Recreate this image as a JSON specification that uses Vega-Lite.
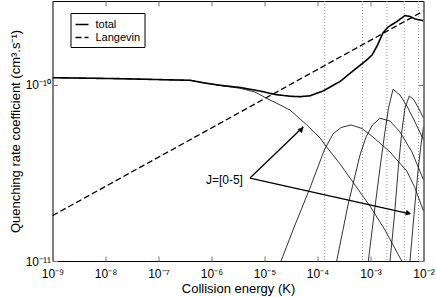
{
  "$schema": "https://vega.github.io/schema/vega-lite/v6.json",
  "width": 371,
  "height": 260,
  "autosize": {"type": "none"},
  "padding": {"left": 52.5, "top": 1, "right": 12.5, "bottom": 36},
  "background": "white",
  "config": {
    "font": "Liberation Sans",
    "view": {"stroke": "black", "strokeWidth": 1},
    "axis": {"grid": false, "domain": false, "tickColor": "#777", "tickSize": -5, "labelFont": "Liberation Sans", "titleFont": "Liberation Sans", "labelColor": "black", "titleColor": "black", "titleFontWeight": "normal", "labelOverlap": false, "labelBound": false, "labelFlush": false}
  },
  "datasets": {
    "main": [
      {"series": "total", "e": 1e-9, "k": 1.100e-10},
      {"series": "total", "e": 1.88e-8, "k": 1.086e-10},
      {"series": "total", "e": 3.93e-7, "k": 1.063e-10},
      {"series": "total", "e": 7.53e-7, "k": 1.026e-10},
      {"series": "total", "e": 1.445e-6, "k": 9.96e-11},
      {"series": "total", "e": 3.45e-6, "k": 9.68e-11},
      {"series": "total", "e": 8.22e-6, "k": 9.24e-11},
      {"series": "total", "e": 1.58e-5, "k": 8.83e-11},
      {"series": "total", "e": 3.03e-5, "k": 8.63e-11},
      {"series": "total", "e": 4.68e-5, "k": 8.58e-11},
      {"series": "total", "e": 7.21e-5, "k": 8.68e-11},
      {"series": "total", "e": 1.27e-4, "k": 9.24e-11},
      {"series": "total", "e": 2.66e-4, "k": 1.047e-10},
      {"series": "total", "e": 4.68e-4, "k": 1.201e-10},
      {"series": "total", "e": 8.47e-4, "k": 1.387e-10},
      {"series": "total", "e": 1.07e-3, "k": 1.481e-10},
      {"series": "total", "e": 1.33e-3, "k": 1.666e-10},
      {"series": "total", "e": 1.72e-3, "k": 1.975e-10},
      {"series": "total", "e": 2.14e-3, "k": 2.135e-10},
      {"series": "total", "e": 3.12e-3, "k": 2.289e-10},
      {"series": "total", "e": 4.48e-3, "k": 2.482e-10},
      {"series": "total", "e": 5.56e-3, "k": 2.450e-10},
      {"series": "total", "e": 6.92e-3, "k": 2.371e-10},
      {"series": "total", "e": 1e-2, "k": 2.319e-10},
      {"series": "Langevin", "e": 1e-9, "k": 1.81e-11},
      {"series": "Langevin", "e": 1e-2, "k": 2.63e-10}
    ],
    "jcurves": [
      {"J": "0", "e": 1e-9, "k": 1.100e-10},
      {"J": "0", "e": 1.88e-8, "k": 1.086e-10},
      {"J": "0", "e": 3.93e-7, "k": 1.063e-10},
      {"J": "0", "e": 7.53e-7, "k": 1.026e-10},
      {"J": "0", "e": 1.445e-6, "k": 9.94e-11},
      {"J": "0", "e": 3.45e-6, "k": 9.58e-11},
      {"J": "0", "e": 6.62e-6, "k": 9.12e-11},
      {"J": "0", "e": 1.10e-5, "k": 8.40e-11},
      {"J": "0", "e": 3.03e-5, "k": 7.21e-11},
      {"J": "0", "e": 6.26e-5, "k": 5.93e-11},
      {"J": "0", "e": 1.114e-4, "k": 5.00e-11},
      {"J": "0", "e": 1.492e-4, "k": 4.44e-11},
      {"J": "0", "e": 2.66e-4, "k": 3.56e-11},
      {"J": "0", "e": 5.10e-4, "k": 2.70e-11},
      {"J": "0", "e": 9.79e-4, "k": 2.05e-11},
      {"J": "0", "e": 1.877e-3, "k": 1.50e-11},
      {"J": "0", "e": 3.88e-3, "k": 1.0e-11},
      {"J": "1", "e": 2.048e-5, "k": 1.0e-11},
      {"J": "1", "e": 3.763e-5, "k": 1.602e-11},
      {"J": "1", "e": 7.219e-5, "k": 2.60e-11},
      {"J": "1", "e": 1.344e-4, "k": 4.27e-11},
      {"J": "1", "e": 1.961e-4, "k": 5.27e-11},
      {"J": "1", "e": 2.776e-4, "k": 5.73e-11},
      {"J": "1", "e": 4.287e-4, "k": 5.93e-11},
      {"J": "1", "e": 6.913e-4, "k": 5.66e-11},
      {"J": "1", "e": 1.115e-3, "k": 5.06e-11},
      {"J": "1", "e": 2.333e-3, "k": 4.16e-11},
      {"J": "1", "e": 4.819e-3, "k": 3.25e-11},
      {"J": "1", "e": 6.913e-3, "k": 2.60e-11},
      {"J": "1", "e": 1e-2, "k": 1.92e-11},
      {"J": "2", "e": 2.303e-4, "k": 1.0e-11},
      {"J": "2", "e": 3.763e-4, "k": 2.08e-11},
      {"J": "2", "e": 6.339e-4, "k": 4.00e-11},
      {"J": "2", "e": 8.226e-4, "k": 5.06e-11},
      {"J": "2", "e": 1.091e-3, "k": 5.93e-11},
      {"J": "2", "e": 1.511e-3, "k": 6.47e-11},
      {"J": "2", "e": 2.333e-3, "k": 6.24e-11},
      {"J": "2", "e": 3.603e-3, "k": 5.41e-11},
      {"J": "2", "e": 6.067e-3, "k": 4.16e-11},
      {"J": "2", "e": 1e-2, "k": 2.89e-11},
      {"J": "3", "e": 9.09e-4, "k": 1.0e-11},
      {"J": "3", "e": 1.164e-3, "k": 1.83e-11},
      {"J": "3", "e": 1.511e-3, "k": 3.38e-11},
      {"J": "3", "e": 1.837e-3, "k": 5.20e-11},
      {"J": "3", "e": 2.186e-3, "k": 7.40e-11},
      {"J": "3", "e": 2.658e-3, "k": 9.45e-11},
      {"J": "3", "e": 3.603e-3, "k": 8.77e-11},
      {"J": "3", "e": 5.10e-3, "k": 7.40e-11},
      {"J": "3", "e": 7.219e-3, "k": 6.00e-11},
      {"J": "3", "e": 1e-2, "k": 4.87e-11},
      {"J": "4", "e": 2.333e-3, "k": 1.0e-11},
      {"J": "4", "e": 2.837e-3, "k": 1.83e-11},
      {"J": "4", "e": 3.346e-3, "k": 3.38e-11},
      {"J": "4", "e": 3.929e-3, "k": 5.55e-11},
      {"J": "4", "e": 4.477e-3, "k": 7.40e-11},
      {"J": "4", "e": 5.397e-3, "k": 8.66e-11},
      {"J": "4", "e": 6.618e-3, "k": 8.22e-11},
      {"J": "4", "e": 8.226e-3, "k": 7.30e-11},
      {"J": "4", "e": 1e-2, "k": 6.49e-11},
      {"J": "5", "e": 5.564e-3, "k": 1.0e-11},
      {"J": "5", "e": 6.618e-3, "k": 1.83e-11},
      {"J": "5", "e": 7.979e-3, "k": 3.38e-11},
      {"J": "5", "e": 8.971e-3, "k": 4.56e-11},
      {"J": "5", "e": 1e-2, "k": 5.77e-11}
    ],
    "thresholds": [
      {"e": 1.367e-4}, {"e": 7.06e-4}, {"e": 2.04e-3}, {"e": 4.34e-3}, {"e": 8.08e-3}
    ],
    "arrows": [
      {"e": 5.32e-6, "k": 2.96e-11, "e2": 5.40e-5, "k2": 5.79e-11},
      {"e": 5.32e-6, "k": 2.96e-11, "e2": 5.56e-3, "k2": 1.85e-11}
    ],
    "head1": [{"e": 5.0e-5, "k": 5.6e-11}],
    "head2": [{"e": 5.2e-3, "k": 1.87e-11}],
    "label": [{"e": 4.28e-6, "k": 2.88e-11, "text": "J=[0-5]"}]
  },
  "layer": [
    {
      "data": {"name": "thresholds"},
      "mark": {"type": "rule", "color": "#999", "strokeDash": [1, 2], "strokeWidth": 1},
      "encoding": {
        "x": {"field": "e", "type": "quantitative", "scale": {"type": "log", "domain": [1e-9, 1e-2]}, "axis": null}
      }
    },
    {
      "data": {"name": "jcurves"},
      "mark": {"type": "line", "color": "black", "strokeWidth": 0.8, "clip": true},
      "encoding": {
        "x": {"field": "e", "type": "quantitative", "scale": {"type": "log", "domain": [1e-9, 1e-2]},
          "axis": {"orient": "top", "values": [1e-9, 1e-8, 1e-7, 1e-6, 1e-5, 1e-4, 1e-3, 1e-2], "labels": false, "title": null}},
        "y": {"field": "k", "type": "quantitative", "scale": {"type": "log", "domain": [1e-11, 3.0e-10]},
          "axis": {"orient": "right", "values": [1e-11, 1e-10], "labels": false, "title": null}},
        "detail": {"field": "J", "type": "nominal"}
      }
    },
    {
      "data": {"name": "main"},
      "mark": {"type": "line", "color": "black", "clip": true},
      "encoding": {
        "x": {"field": "e", "type": "quantitative", "scale": {"type": "log", "domain": [1e-9, 1e-2]},
          "axis": {"orient": "bottom", "values": [1e-9, 1e-8, 1e-7, 1e-6, 1e-5, 1e-4, 1e-3, 1e-2], "title": "Collision energy (K)", "titleFontSize": 13, "labelFontSize": 12, "labelPadding": 12, "titlePadding": 3,
            "labelExpr": "'10' + ['⁻¹¹','⁻¹⁰','⁻⁹','⁻⁸','⁻⁷','⁻⁶','⁻⁵','⁻⁴','⁻³','⁻²'][round(log(datum.value)/LN10)+11]"}},
        "y": {"field": "k", "type": "quantitative", "scale": {"type": "log", "domain": [1e-11, 3.0e-10]},
          "axis": {"orient": "left", "values": [1e-11, 1e-10], "title": "Quenching rate coefficient (cm³.s⁻¹)", "titleFontSize": 13, "labelFontSize": 12, "labelPadding": 7, "titlePadding": 3,
            "labelExpr": "'10' + ['⁻¹¹','⁻¹⁰','⁻⁹','⁻⁸','⁻⁷','⁻⁶','⁻⁵','⁻⁴','⁻³','⁻²'][round(log(datum.value)/LN10)+11]"}},
        "strokeDash": {"field": "series", "type": "nominal", "scale": {"domain": ["total", "Langevin"], "range": [[1, 0], [6, 3]]},
          "legend": {"orient": "none", "legendX": 18, "legendY": 12, "title": null, "strokeColor": "black", "padding": 4, "symbolType": "stroke", "symbolSize": 169, "symbolStrokeColor": "black", "labelFontSize": 11, "labelOffset": 6, "rowPadding": 0, "labelColor": "black"}},
        "strokeWidth": {"field": "series", "type": "nominal", "scale": {"domain": ["total", "Langevin"], "range": [1.6, 1.3]}, "legend": null}
      }
    },
    {
      "data": {"name": "arrows"},
      "mark": {"type": "rule", "color": "black", "strokeWidth": 1.3},
      "encoding": {
        "x": {"field": "e", "type": "quantitative", "scale": {"type": "log", "domain": [1e-9, 1e-2]}, "axis": null},
        "y": {"field": "k", "type": "quantitative", "scale": {"type": "log", "domain": [1e-11, 3.0e-10]}, "axis": null},
        "x2": {"field": "e2"},
        "y2": {"field": "k2"}
      }
    },
    {
      "data": {"name": "head1"},
      "mark": {"type": "point", "shape": "triangle-up", "filled": true, "color": "black", "size": 35, "angle": 46, "opacity": 1},
      "encoding": {
        "x": {"field": "e", "type": "quantitative", "scale": {"type": "log", "domain": [1e-9, 1e-2]}, "axis": null},
        "y": {"field": "k", "type": "quantitative", "scale": {"type": "log", "domain": [1e-11, 3.0e-10]}, "axis": null}
      }
    },
    {
      "data": {"name": "head2"},
      "mark": {"type": "point", "shape": "triangle-up", "filled": true, "color": "black", "size": 35, "angle": 103, "opacity": 1},
      "encoding": {
        "x": {"field": "e", "type": "quantitative", "scale": {"type": "log", "domain": [1e-9, 1e-2]}, "axis": null},
        "y": {"field": "k", "type": "quantitative", "scale": {"type": "log", "domain": [1e-11, 3.0e-10]}, "axis": null}
      }
    },
    {
      "data": {"name": "label"},
      "mark": {"type": "text", "align": "right", "baseline": "middle", "fontSize": 12, "font": "Liberation Sans", "color": "black", "dx": -2},
      "encoding": {
        "x": {"field": "e", "type": "quantitative", "scale": {"type": "log", "domain": [1e-9, 1e-2]}, "axis": null},
        "y": {"field": "k", "type": "quantitative", "scale": {"type": "log", "domain": [1e-11, 3.0e-10]}, "axis": null},
        "text": {"field": "text"}
      }
    }
  ],
  "resolve": {"axis": {"x": "independent", "y": "independent"}}
}
